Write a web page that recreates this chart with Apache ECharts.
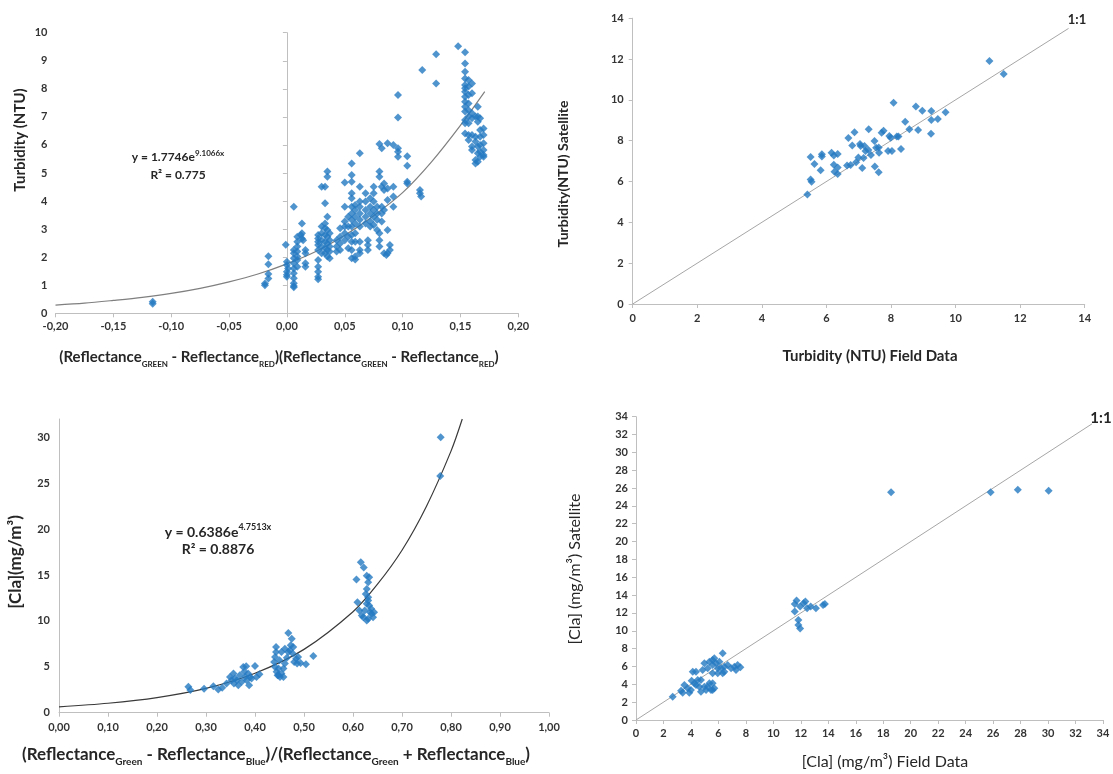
<!DOCTYPE html>
<html>
<head>
<meta charset="utf-8">
<script src="https://cdn.jsdelivr.net/npm/echarts@6/dist/echarts.min.js"></script>
<style>
  html, body { margin: 0; padding: 0; background: #fff; }
  #main { width: 1113px; height: 774px; }
</style>
</head>
<body>
<div id="main"></div>
<script>
// top-left: turbidity vs (green - red) reflectance
var turbRefl = [
  [-0.116,0.41],[-0.116,0.34],[-0.019,1.06],[-0.019,1.0],
  [-0.016,2.03],[-0.016,1.75],[-0.016,1.4],[-0.016,1.24],
  [-0.001,2.44],[0,1.84],[0,1.72],[0.001,1.6],[0,1.48],[0,1.37],[0,1.3],
  [0.006,3.8],[0.006,2.26],[0.006,2.14],[0.006,1.96],[0.006,1.78],[0.006,1.6],[0.006,1.43],[0.006,1.25],[0.006,1.07],[0.006,0.97],[0.006,0.93],
  [0.009,2.73],[0.009,2.55],[0.009,2.38],[0.009,2.2],[0.009,2.02],[0.009,1.9],[0.009,1.66],
  [0.013,3.2],[0.013,2.85],[0.013,2.67],[0.014,2.6],[0.012,2.79],
  [0.016,2.26],[0.016,2.14],[0.016,1.78],[0.016,1.66],
  [0.027,1.9],[0.027,1.66],[0.027,1.48],[0.027,1.3],[0.027,1.21],[0.027,2.79],[0.027,2.67],[0.027,2.55],[0.027,2.43],[0.027,2.26],
  [0.030,4.51],[0.030,3.09],[0.030,2.85],[0.030,2.6],[0.030,2.38],[0.030,2.14],
  [0.033,4.51],[0.033,3.92],[0.033,3.2],[0.033,3.03],[0.033,2.79],[0.033,2.55],[0.033,2.32],[0.033,2.14],
  [0.035,5.05],[0.035,4.87],[0.035,3.44],[0.035,2.97],[0.035,2.73],[0.035,2.49],[0.035,2.26],[0.035,2.02],
  [0.037,2.85],[0.037,2.6],[0.037,2.38],[0.037,2.2],[0.037,1.96],
  [0.043,2.6],[0.043,2.38],[0.043,2.2],
  [0.046,3.03],[0.046,2.73],[0.046,2.49],[0.046,2.26],
  [0.05,4.66],[0.05,3.8],[0.05,3.27],[0.05,3.09],[0.05,2.85],[0.05,2.6],
  [0.053,3.44],[0.053,3.09],[0.053,2.73],[0.053,2.32],
  [0.056,5.34],[0.056,4.93],[0.056,4.69],[0.056,4.28],[0.056,4.1],[0.056,3.8],[0.056,3.56],[0.056,3.33],[0.056,3.09],[0.056,2.79],[0.056,2.55],[0.056,2.26],[0.056,1.96],
  [0.059,3.86],[0.059,3.68],[0.059,3.44],[0.059,3.2],[0.059,2.85],[0.059,2.55],[0.059,2.02],[0.059,1.92],
  [0.063,5.7],[0.063,4.51],[0.063,3.98],[0.063,3.8],[0.063,3.56],[0.063,3.33],[0.063,3.09],[0.063,2.55],[0.063,2.26],[0.063,2.14],
  [0.068,4.28],[0.068,3.98],[0.068,3.68],[0.068,3.44],[0.068,3.2],
  [0.07,2.6],[0.07,2.43],[0.07,2.26],
  [0.072,4.1],[0.072,3.8],[0.072,3.56],[0.072,3.27],[0.072,3.09],
  [0.075,4.51],[0.075,4.28],[0.075,3.98],[0.075,3.68],[0.075,3.44],[0.075,3.15],
  [0.078,3.8],[0.078,3.56],[0.078,3.33],[0.078,2.97],
  [0.08,6.03],[0.08,5.05],[0.08,4.87],[0.08,2.85],[0.08,2.6],[0.08,2.38],
  [0.082,5.88],[0.082,3.8],[0.082,3.56],[0.082,3.27],[0.082,4.51],
  [0.084,4.63],[0.084,4.39],[0.084,3.68],[0.084,2.14],
  [0.087,6.06],[0.087,4.45],[0.087,4.04],[0.087,2.97],[0.087,2.14],[0.086,2.08],
  [0.089,2.43],[0.089,2.26],
  [0.092,6.0],[0.092,4.51],[0.092,4.16],[0.092,3.8],
  [0.096,7.78],[0.096,6.98],[0.096,5.88],[0.096,5.76],[0.096,5.58],
  [0.104,5.6],[0.104,5.26],[0.104,4.69],[0.104,4.63],
  [0.115,4.39],[0.115,4.28],[0.116,4.16],
  [0.117,8.67],[0.129,9.23],[0.129,8.19],[0.148,9.52],
  [0.154,9.3],[0.154,8.9],[0.154,8.61],[0.154,8.37],[0.154,8.14],[0.154,8.02],[0.154,7.9],[0.154,7.72],[0.154,7.54],[0.154,7.36],[0.154,7.19],[0.154,6.89],[0.154,6.77],[0.154,6.41],
  [0.157,8.31],[0.157,8.08],[0.157,7.78],[0.157,7.48],[0.157,7.24],[0.157,7.01],[0.157,6.77],[0.157,6.35],[0.157,6.18],
  [0.160,8.19],[0.160,7.84],[0.160,7.13],[0.160,6.95],[0.160,6.35],[0.160,5.94],[0.160,5.82],
  [0.163,7.01],[0.163,6.29],[0.163,6.12],[0.163,5.46],[0.163,5.34],
  [0.165,7.36],[0.165,7.01],[0.165,6.83],[0.165,5.94],[0.165,5.7],[0.165,5.4],
  [0.167,6.95],[0.167,6.53],[0.167,6.29],[0.167,6.0],[0.167,5.76],[0.167,5.58],
  [0.170,6.59],[0.170,6.35],[0.170,6.06],[0.170,5.82],[0.170,5.64],[0.170,5.58]
];
// exponential trend line as drawn (y = 1.7746e^9.1066x)
var turbTrend = [
  [-0.2,0.29],[-0.175,0.36],[-0.15,0.46],[-0.125,0.57],[-0.1,0.71],[-0.075,0.89],
  [-0.05,1.12],[-0.025,1.4],[0,1.76],[0.025,2.2],[0.05,2.78],[0.075,3.48],
  [0.1,4.3],[0.125,5.4],[0.15,6.7],[0.171,7.9]
];

// top-right: turbidity field vs satellite
var turbField = [
  [5.41,5.37],[5.51,6.1],[5.54,5.99],[5.51,7.2],[5.63,6.86],[5.82,6.55],[5.86,7.33],[5.86,7.23],
  [6.16,7.41],[6.23,7.28],[6.23,6.82],[6.25,6.48],[6.35,7.35],[6.35,6.69],[6.35,6.37],
  [6.64,6.78],[6.68,8.13],[6.75,6.81],[6.8,7.76],[6.87,8.41],[6.92,6.94],[6.99,7.18],
  [7.04,7.84],[7.06,7.74],[7.11,6.66],[7.15,7.15],[7.18,7.74],[7.21,7.49],[7.31,8.56],
  [7.3,7.54],[7.38,7.3],[7.49,7.98],[7.5,6.73],[7.54,7.66],[7.62,6.45],[7.63,7.41],
  [7.62,7.67],[7.71,8.39],[7.77,8.49],[7.91,7.49],[7.95,8.23],[7.99,8.14],[8.03,7.49],
  [8.08,9.86],[8.18,8.2],[8.23,8.2],[8.31,7.59],[8.44,8.93],[8.57,8.56],[8.77,9.67],
  [8.84,8.52],[8.97,9.47],[9.25,9.45],[9.25,9.01],[9.24,8.34],[9.45,9.06],[9.69,9.39],
  [11.05,11.9],[11.49,11.27]
];
var turbOneToOne = [[0,0],[13.5,13.5]];

// bottom-left: chlorophyll vs normalised green/blue
var claRefl = [
  [0.264,2.82],[0.268,2.46],[0.296,2.6],[0.315,2.89],[0.325,2.53],[0.333,2.71],
  [0.342,3.18],[0.349,3.9],[0.352,3.54],[0.356,4.27],[0.359,3.72],[0.357,3.18],[0.363,3.54],
  [0.366,3.0],[0.369,4.09],[0.373,3.36],[0.376,4.99],[0.378,4.45],[0.38,3.9],[0.382,5.06],
  [0.383,3.54],[0.386,4.27],[0.388,3.0],[0.39,3.9],[0.393,3.72],[0.4,5.1],[0.403,3.9],[0.409,4.19],
  [0.443,7.16],[0.443,6.62],[0.441,6.07],[0.439,5.53],[0.441,4.99],[0.444,4.45],[0.446,4.09],
  [0.451,3.9],[0.454,4.27],[0.458,4.81],[0.461,5.35],[0.45,5.71],[0.465,6.0],[0.468,6.62],
  [0.468,8.68],[0.475,8.06],[0.473,7.34],[0.478,7.16],[0.471,6.8],[0.477,6.44],[0.484,5.89],
  [0.486,5.35],[0.48,5.53],[0.493,5.42],[0.504,5.28],[0.519,6.18],[0.454,6.62],[0.461,6.98],
  [0.448,4.81],[0.458,3.9],[0.448,4.09],[0.488,6.07],
  [0.607,14.5],[0.609,12.04],[0.613,11.14],[0.616,16.38],[0.618,10.6],[0.622,15.83],
  [0.628,14.93],[0.631,14.21],[0.628,13.49],[0.626,12.94],[0.631,12.58],[0.628,11.86],
  [0.633,11.68],[0.637,11.32],[0.638,10.77],[0.631,10.23],[0.628,10.05],[0.621,10.41],
  [0.641,10.41],[0.633,14.75],[0.631,12.22],[0.635,10.95],[0.643,10.95],[0.624,11.14],
  [0.779,30.0],[0.778,25.8]
];
// exponential trend line as drawn (y = 0.6386e^4.7513x)
var claTrend = [
  [0,0.64],[0.1,1.03],[0.2,1.65],[0.3,2.65],[0.4,4.3],[0.5,6.9],[0.6,11.0],
  [0.65,14.0],[0.7,17.7],[0.75,22.5],[0.8,28.5],[0.823,32]
];

// bottom-right: chlorophyll field vs satellite
var claField = [
  [2.67,2.62],[3.28,3.29],[3.4,3.06],[3.52,3.92],[3.76,3.55],[3.88,3.06],[4.0,3.36],[4.05,4.41],
  [4.13,5.42],[4.37,5.42],[4.37,3.92],[4.61,3.74],[4.73,4.48],[4.73,3.18],[4.85,5.61],[4.98,6.35],
  [4.98,3.74],[5.1,3.36],[5.22,5.79],[5.22,3.74],[5.34,6.54],[5.46,3.36],[5.58,6.73],[5.58,6.17],
  [5.58,5.23],[5.58,4.11],[5.58,3.36],[5.7,6.91],[5.83,6.35],[5.95,5.79],[5.95,5.23],[5.7,3.55],
  [5.34,4.11],[6.31,7.47],[6.19,5.79],[6.31,5.23],[6.43,5.98],[6.67,6.17],[6.92,5.79],[7.16,5.98],
  [7.4,6.17],[7.6,5.9],[7.28,5.61],[6.43,5.42],[6.07,6.54],[4.49,4.48],[4.25,4.11],
  [11.56,13.0],[11.56,12.15],[11.82,11.2],[11.95,10.27],[11.82,10.64],[11.95,12.73],[12.2,13.1],
  [12.46,12.54],[12.33,13.27],[12.72,12.73],[13.1,12.54],[13.62,12.9],[13.75,13.0],[11.69,13.4],
  [18.57,25.52],[25.82,25.52],[27.8,25.8],[30.04,25.7]
];
var claOneToOne = [[0,0],[33.2,33.2]];

var FONT = 'Lato, "Open Sans", sans-serif';
var BLUE = '#2479c2';
var INK = '#262626';

function comma2(v) { return v.toFixed(2).replace('.', ','); }

function axis(gridIndex, min, max, interval, margin, fmt, showTick) {
  return {
    type: 'value', gridIndex: gridIndex, min: min, max: max, interval: interval,
    splitLine: { show: false },
    axisLine: { lineStyle: { color: '#bfbfbf', width: 1 } },
    axisTick: { show: showTick !== false, length: 4, lineStyle: { color: '#bfbfbf' } },
    axisLabel: {
      margin: margin, fontSize: 11, fontWeight: 'bold', fontFamily: FONT, color: '#333',
      formatter: fmt
    }
  };
}

function txt(x, y, text, font, rotate, rich) {
  var el = {
    type: 'text', x: x, y: y,
    style: {
      text: text, font: font, fill: INK,
      textAlign: 'center', textVerticalAlign: 'middle',
      align: 'center', verticalAlign: 'middle'
    }
  };
  if (rotate) el.rotation = Math.PI / 2;
  if (rich) el.style.rich = rich;
  return el;
}

function sub(size, sz) {
  return {
    b: { fontSize: size, fontWeight: 'bold', fontFamily: FONT, fill: INK, lineHeight: size + 7 },
    s: { fontSize: sz, fontWeight: 'bold', fontFamily: FONT, fill: INK, verticalAlign: 'bottom', lineHeight: sz + 1 }
  };
}
function sup(size, sz) {
  return {
    b: { fontSize: size, fontWeight: 'bold', fontFamily: FONT, fill: INK, lineHeight: size + 4 },
    p: { fontSize: sz, fontWeight: 'bold', fontFamily: FONT, fill: INK, verticalAlign: 'top', lineHeight: sz + 1 }
  };
}

var chart = echarts.init(document.getElementById('main'));

var option = {
  animation: false,
  backgroundColor: '#fff',
  grid: [
    { left: 55.5, right: 594.7, top: 32.7, bottom: 460.7, outerBoundsMode: 'none' },
    { left: 632.7, right: 28.3, top: 18.2, bottom: 470, outerBoundsMode: 'none' },
    { left: 59, right: 564, top: 419, bottom: 61.3, outerBoundsMode: 'none' },
    { left: 636, right: 10, top: 416.7, bottom: 54, outerBoundsMode: 'none' }
  ],
  xAxis: [
    axis(0, -0.2, 0.2, 0.05, 8, comma2),
    axis(1, 0, 14, 2, 9),
    axis(2, 0, 1, 0.1, 9, comma2),
    axis(3, 0, 34, 2, 8)
  ],
  yAxis: [
    axis(0, 0, 10, 1, 8),
    axis(1, 0, 14, 2, 9),
    axis(2, 0, 32, 5, 9, function (v) { return v % 5 === 0 ? String(v) : ''; }, false),
    axis(3, 0, 34, 2, 8)
  ],
  series: [
    {
      type: 'line', xAxisIndex: 0, yAxisIndex: 0, data: turbTrend, smooth: 0.3,
      showSymbol: false, silent: true, lineStyle: { color: '#7f7f7f', width: 1.2 }, z: 1
    },
    {
      type: 'scatter', xAxisIndex: 0, yAxisIndex: 0, data: turbRefl,
      symbol: 'diamond', symbolSize: 8, itemStyle: { color: BLUE }, z: 2
    },
    {
      type: 'line', xAxisIndex: 1, yAxisIndex: 1, data: turbOneToOne,
      showSymbol: false, silent: true, lineStyle: { color: '#a6a6a6', width: 1 }, z: 1
    },
    {
      type: 'scatter', xAxisIndex: 1, yAxisIndex: 1, data: turbField,
      symbol: 'diamond', symbolSize: 8, itemStyle: { color: BLUE }, z: 2
    },
    {
      type: 'line', xAxisIndex: 2, yAxisIndex: 2, data: claTrend, smooth: 0.3,
      showSymbol: false, silent: true, lineStyle: { color: '#3a3a3a', width: 1.2 }, z: 1
    },
    {
      type: 'scatter', xAxisIndex: 2, yAxisIndex: 2, data: claRefl,
      symbol: 'diamond', symbolSize: 8, itemStyle: { color: BLUE }, z: 2
    },
    {
      type: 'line', xAxisIndex: 3, yAxisIndex: 3, data: claOneToOne,
      showSymbol: false, silent: true, lineStyle: { color: '#a6a6a6', width: 1 }, z: 1
    },
    {
      type: 'scatter', xAxisIndex: 3, yAxisIndex: 3, data: claField,
      symbol: 'diamond', symbolSize: 8, itemStyle: { color: BLUE }, z: 2
    }
  ],
  graphic: [
    // top-left
    txt(20, 140, 'Turbidity (NTU)', 'bold 15px ' + FONT, true),
    txt(279, 357,
      '{b|(Reflectance}{s|GREEN}{b| - Reflectance}{s|RED}{b|)(Reflectance}{s|GREEN}{b| - Reflectance}{s|RED}{b|)}',
      'bold 15px ' + FONT, false, sub(15, 8)),
    txt(178, 157, '{b|y = 1.7746e}{p|9.1066x}', 'bold 12px ' + FONT, false, sup(12, 8)),
    txt(178, 175, 'R² = 0.775', 'bold 12px ' + FONT),
    // top-right
    txt(563, 174, 'Turbidity(NTU) Satellite', 'bold 14px ' + FONT, true),
    txt(870, 356, 'Turbidity (NTU) Field Data', 'bold 15px ' + FONT),
    txt(1077, 20, '1:1', 'bold 13px ' + FONT),
    // bottom-left
    txt(16, 562, '[Cla](mg/m³)', 'bold 17px ' + FONT, true),
    txt(276, 755,
      '{b|(Reflectance}{s|Green}{b| - Reflectance}{s|Blue}{b|)/(Reflectance}{s|Green}{b| + Reflectance}{s|Blue}{b|)}',
      'bold 17px ' + FONT, false, sub(17, 10)),
    txt(218, 532, '{b|y = 0.6386e}{p|4.7513x}', 'bold 14px ' + FONT, false, sup(14, 9)),
    txt(218, 549, 'R² = 0.8876', 'bold 14px ' + FONT),
    // bottom-right
    txt(575, 569, '[Cla] (mg/m³) Satellite', '16px ' + FONT, true),
    txt(885, 762, '[Cla] (mg/m³) Field Data', '16px ' + FONT),
    txt(1101, 418, '1:1', 'bold 15px ' + FONT)
  ]
};

chart.setOption(option);
</script>
</body>
</html>
